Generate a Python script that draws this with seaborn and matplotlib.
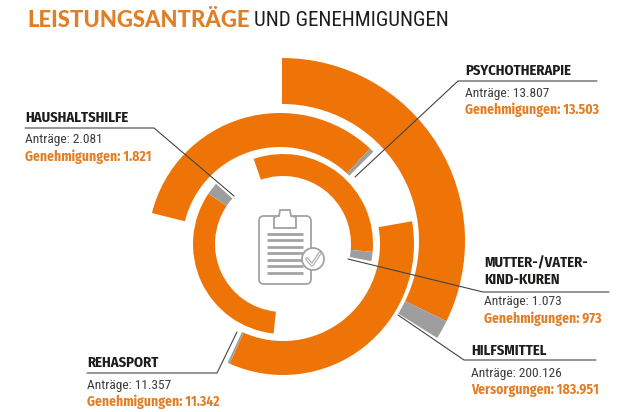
import numpy as np
import pandas as pd
import seaborn as sns
import matplotlib.pyplot as plt
from matplotlib.patches import Circle, FancyBboxPatch, Polygon

# values
categories = ["Hilfsmittel", "Psychotherapie", "Rehasport", "Mutter-/Vater-Kind-Kuren", "Haushaltshilfe"]
antraege = ["200.126", "13.807", "11.357", "1.073", "2.081"]
bewilligt = ["183.951", "13.503", "11.342", "973", "1.821"]
bewilligt_label = ["Versorgungen", "Genehmigungen", "Genehmigungen", "Genehmigungen", "Genehmigungen"]
orange_sweep = [116, 119, 124, 114, 118]
grey_sweep = [6, 2, 1, 6, 8]

# where each arc sits
arc_start = [0, 284, 80, 341, 186]
arc_inner = [137, 98, 97, 68, 68]
arc_outer = [183, 132, 131, 90, 90]
arc_track = [0, 2, 1, 1, 1]

ORANGE = "#EE7408"
TEXT_ORANGE = "#E07F26"
GREY = "#9E9E9E"
DARK = "#1d1d1b"
W, H = 630, 412
NARROW = ["Fira Sans Condensed", "Roboto Condensed", "Archivo Narrow", "Roboto", "DejaVu Sans"]
THIN = ["Roboto Condensed", "Fira Sans Condensed", "Archivo Narrow", "Roboto", "DejaVu Sans"]

sns.set_theme(style="white")
plt.rcParams["font.family"] = NARROW

df = pd.DataFrame({
    "category": categories,
    "orange": orange_sweep,
    "grey": grey_sweep,
    "start": arc_start,
    "inner": arc_inner,
    "outer": arc_outer,
    "track": arc_track,
})


def polar_axes(fig, cx, cy, rmax):
    ax = fig.add_axes([(cx - rmax) / W, 1 - (cy + rmax) / H, 2 * rmax / W, 2 * rmax / H],
                      projection="polar")
    ax.set_theta_zero_location("N")
    ax.set_theta_direction(-1)
    ax.set_ylim(0, rmax)
    ax.set_axis_off()
    ax.patch.set_alpha(0)
    return ax


fig = plt.figure(figsize=(W / 100, H / 100), dpi=100, facecolor="white")
# the rings in the picture are not quite concentric
track_axes = [polar_axes(fig, 282, 241, 190), polar_axes(fig, 283, 244, 190), polar_axes(fig, 280, 245, 190)]

colors = sns.color_palette([ORANGE, GREY])
for _, row in df.iterrows():
    ax = track_axes[row["track"]]
    start = np.radians(row["start"])
    ax.bar(start, row["outer"] - row["inner"], width=np.radians(row["orange"]),
           bottom=row["inner"], align="edge", color=colors[0], linewidth=0)
    ax.bar(start + np.radians(row["orange"]), row["outer"] - row["inner"], width=np.radians(row["grey"]),
           bottom=row["inner"], align="edge", color=colors[1], linewidth=0)

# overlay in pixel coordinates for labels, leaders and the icon
ov = fig.add_axes([0, 0, 1, 1])
ov.set_xlim(0, W)
ov.set_ylim(H, 0)
ov.set_axis_off()
ov.patch.set_alpha(0)

ov.text(27, 20, "LEISTUNGSANTRÄGE", family=["Lato", "DejaVu Sans"], weight="black", fontsize=15.9,
        color=TEXT_ORANGE, va="center", ha="left")
ov.text(254, 20, "UND GENEHMIGUNGEN", family=THIN, fontsize=15.1, color=DARK, va="center", ha="left")

leaders = [
    ([355, 458, 597], [177, 81, 81]),
    ([234, 154, 25], [196, 128, 128]),
    ([348, 483, 609], [259, 292, 292]),
    ([398, 464, 596], [315, 360, 360]),
    ([237, 217, 87], [332, 373, 373]),
]
for xs, ys in leaders:
    ov.plot(xs, ys, color="#444444", lw=0.8, solid_joinstyle="miter")

labels = [(471, ["HILFSMITTEL"], 351, 0),
          (465, ["PSYCHOTHERAPIE"], 71, 1),
          (87, ["REHASPORT"], 363, 2),
          (484, ["MUTTER-/VATER-", "KIND-KUREN"], 263, 3),
          (25, ["HAUSHALTSHILFE"], 118, 4)]
for x, heads, y, i in labels:
    for k, head in enumerate(heads):
        ov.text(x, y + 17 * k, head, fontsize=10.5, weight="bold", color=DARK, va="center")
    y2 = y + 17 * (len(heads) - 1)
    ov.text(x, y2 + 22, f"Anträge: {antraege[i]}", family=THIN, fontsize=9.6, color="#3c3c3b", va="center")
    ov.text(x, y2 + 39, f"{bewilligt_label[i]}: {bewilligt[i]}", fontsize=9.8, weight="bold",
            color=TEXT_ORANGE, va="center")

# clipboard icon
ICON = "#a3a3a3"
ov.add_patch(FancyBboxPatch((262, 219), 46, 62, boxstyle="round,pad=3,rounding_size=5",
                            fc="none", ec=ICON, lw=1.3))
ov.add_patch(Polygon([(274, 228), (274, 217), (279, 216), (280, 210), (290, 210), (291, 216),
                      (296, 217), (296, 228)], closed=True, fc="white", ec=ICON, lw=1.3))
for yy in [234, 240, 247, 253, 260, 266, 273]:
    ov.plot([267, 303], [yy, yy], color=ICON, lw=2, solid_capstyle="butt")
ov.add_patch(Circle((313, 259), 11, fc="white", ec=ICON, lw=1.3, zorder=3))
ov.plot([307, 312, 320], [259, 265, 253], color=ICON, lw=2.4, zorder=4)
ov.plot([307, 312, 320], [259, 265, 253], color="white", lw=0.9, zorder=5)

fig.savefig("out.png", dpi=100)
